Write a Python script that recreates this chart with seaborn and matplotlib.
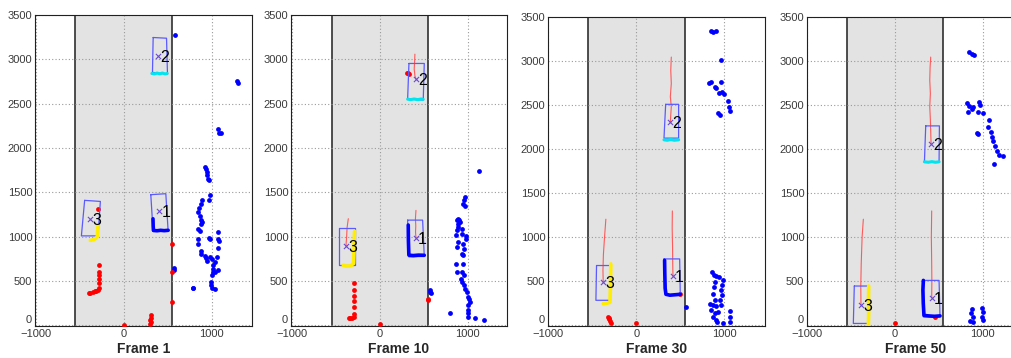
import matplotlib
matplotlib.use("Agg")
import matplotlib.pyplot as plt
import seaborn as sns
import numpy as np

sns.set_style("white")
plt.rcParams['font.family'] = ['Liberation Sans', 'DejaVu Sans']

frame_titles = ["Frame 1", "Frame 10", "Frame 30", "Frame 50"]
x_ticks = [-1000, 0, 1000]
y_ticks = [0, 500, 1000, 1500, 2000, 2500, 3000, 3500]
lane_edges = [-550, 550]

# ---------------- Frame 1 ----------------
f1_blue_x = [582, 1285, 1300, 1075, 1087, 1106, 924, 935, 943, 950, 960, 972,
             981, 973, 886, 878, 858, 847, 866, 878, 886, 878, 847, 866,
             973, 981, 1075, 1068, 1087, 1075,
             840, 847, 874, 878, 924, 935, 950, 981, 1000, 1057, 1038, 1018, 1011, 1011,
             1000, 1038, 1075, 989, 989, 1000, 1038, 783, 790, 568, 575]
f1_blue_y = [3274, 2750, 2733, 2215, 2167, 2167, 1790, 1765, 1727, 1690, 1652, 1633,
             1464, 1415, 1407, 1371, 1325, 1277, 1228, 1182, 1164, 1145, 1081, 1063,
             985, 969, 1052, 969, 950, 872,
             969, 920, 837, 807, 781, 762, 725, 770, 751, 770, 714, 675, 638, 600,
             563, 600, 619, 489, 451, 414, 406, 414, 420, 650, 620]
f1_red_x = [-285, -283, -283, -283, -283, -285, -290, -311, -330, -350, -380, -396,
            296, 316, 305, 310, 300, 0, 544, 548, 545, -293]
f1_red_y = [676, 600, 560, 520, 480, 420, 394, 385, 380, 376, 365, 357,
            56, 113, 80, 30, 10, 0, 920, 601, 263, 1314]
f1_box1_x = [308, 479, 505, 334, 308]
f1_box1_y = [1472, 1483, 1070, 1059, 1472]
f1_box2_x = [335, 487, 498, 327, 335]
f1_box2_y = [3246, 3238, 2833, 2852, 3246]
f1_box3_x = [-445, -266, -293, -482, -445]
f1_box3_y = [1408, 1396, 1007, 1007, 1408]
f1_center_x = [403, 392, -380]
f1_center_y = [1287, 3039, 1202]
f1_cyan_x = [320, 350, 380, 410, 440, 470, 495]
f1_cyan_y = [2840, 2835, 2845, 2835, 2845, 2835, 2840]
f1_yellow_x = [-293, -296, -300, -311, -340, -380]
f1_yellow_y = [1126, 1060, 1000, 985, 965, 957]
f1_lshape_x = [333, 335, 338, 380, 420, 460, 506]
f1_lshape_y = [1200, 1120, 1068, 1065, 1070, 1066, 1070]
f1_traj1_x, f1_traj1_y = [], []
f1_traj2_x, f1_traj2_y = [], []
f1_traj3_x, f1_traj3_y = [], []

# ---------------- Frame 10 ----------------
f10_blue_x = [1129, 969, 961, 950, 969, 893, 874, 893, 886, 874, 939, 939, 863, 893, 874,
              950, 962, 931, 950, 863, 874, 950, 939, 962, 924, 939, 962, 969, 988,
              1007, 1026, 1000, 1000, 1000, 1007, 1083, 798, 1190, 570, 578, 575,
              905, 915, 980, 985, 1015]
f10_blue_y = [1734, 1446, 1408, 1370, 1345, 1201, 1182, 1145, 1108, 1070, 1089, 1033, 1014,
              939, 882, 920, 864, 807, 788, 695, 601, 695, 601, 563, 526, 481, 450, 413,
              376, 320, 263, 225, 169, 132, 95, 75, 132, 56, 394, 357, 375,
              1190, 1160, 1010, 970, 290]
f10_red_x = [-297, -297, -297, -297, -297, -297, -300, -320, -340, -354,
             304, 318, 330, 0, 551, 545]
f10_red_y = [477, 394, 330, 270, 200, 130, 94, 80, 78, 75,
             2844, 2840, 2835, 11, 300, 280]
f10_box1_x = [316, 487, 506, 330, 316]
f10_box1_y = [1185, 1185, 775, 770, 1185]
f10_box2_x = [331, 506, 494, 316, 331]
f10_box2_y = [2953, 2953, 2540, 2552, 2953]
f10_box3_x = [-464, -285, -285, -464, -464]
f10_box3_y = [1096, 1096, 675, 675, 1096]
f10_center_x = [411, 411, -388]
f10_center_y = [983, 2777, 893]
f10_cyan_x = [316, 350, 390, 430, 470, 494]
f10_cyan_y = [2550, 2545, 2552, 2545, 2552, 2548]
f10_yellow_x = [-290, -294, -297, -300, -330, -380, -418]
f10_yellow_y = [1060, 950, 800, 700, 670, 665, 675]
f10_lshape_x = [323, 325, 330, 380, 440, 506]
f10_lshape_y = [1130, 950, 790, 785, 790, 788]
f10_traj1_x = [411, 405, 409, 406, 411]
f10_traj1_y = [1295, 1200, 1120, 1050, 983]
f10_traj2_x = [399, 395, 391, 399, 411]
f10_traj2_y = [3058, 2964, 2889, 2814, 2777]
f10_traj3_x = [-361, -375, -380, -388]
f10_traj3_y = [1201, 1100, 1000, 893]

# ---------------- Frame 30 ----------------
f30_blue_x = [849, 868, 898, 963, 822, 849, 887, 906, 963, 936, 974, 989, 1038, 1049, 1064,
              925, 944,
              856, 879, 906, 936, 981, 887, 974, 879, 963, 868, 974, 887, 944, 830, 868,
              906, 963, 849, 887, 925, 1057, 868, 898, 917, 981, 1057, 1057, 558]
f30_blue_y = [3345, 3326, 3337, 3014, 2751, 2763, 2706, 2688, 2763, 2638, 2650, 2624, 2548,
              2473, 2435, 2413, 2387,
              609, 571, 557, 545, 507, 489, 451, 433, 395, 357, 338, 282, 282, 245, 225,
              219, 233, 169, 132, 151, 158, 95, 56, 30, 19, 95, 30, 207]
f30_red_x = [-321, -315, -310, -300, -291, 0, 498]
f30_red_y = [94, 85, 70, 45, 19, 19, 357]
f30_box1_x = [313, 491, 498, 340, 313]
f30_box1_y = [752, 752, 346, 346, 752]
f30_box2_x = [332, 479, 479, 313, 332]
f30_box2_y = [2508, 2508, 2124, 2124, 2508]
f30_box3_x = [-453, -291, -302, -460, -453]
f30_box3_y = [677, 677, 282, 282, 677]
f30_center_x = [415, 385, -377]
f30_center_y = [556, 2312, 489]
f30_cyan_x = [313, 350, 390, 430, 479]
f30_cyan_y = [2105, 2100, 2108, 2100, 2105]
f30_yellow_x = [-291, -293, -296, -300, -330, -377]
f30_yellow_y = [695, 550, 400, 260, 250, 244]
f30_lshape_x = [320, 322, 326, 335, 380, 440, 498]
f30_lshape_y = [735, 600, 420, 350, 340, 345, 350]
f30_traj1_x = [408, 406, 410, 412, 415]
f30_traj1_y = [1297, 1100, 900, 700, 556]
f30_traj2_x = [396, 390, 396, 385, 396, 385]
f30_traj2_y = [3045, 2894, 2744, 2594, 2481, 2312]
f30_traj3_x = [-347, -362, -375, -380, -377]
f30_traj3_y = [1203, 1000, 800, 620, 489]

# ---------------- Frame 50 ----------------
f50_blue_x = [847, 874, 901, 825, 847, 874, 836, 893, 962, 969, 950, 1000, 939, 950,
              1076, 1064, 1091, 1102, 1121, 1140, 1159, 1190, 1228, 1129,
              874, 863, 886, 855, 893, 988, 1000, 988, 1007]
f50_blue_y = [3100, 3082, 3074, 2519, 2488, 2451, 2424, 2480, 2537, 2499, 2424, 2406, 2187,
              2169,
              2330, 2255, 2199, 2142, 2086, 2029, 1973, 1935, 1917, 1834,
              188, 132, 94, 45, 38, 196, 151, 94, 56]
f50_red_x = [0, 456]
f50_red_y = [26, 94]
f50_box1_x = [323, 502, 513, 323, 323]
f50_box1_y = [508, 508, 94, 94, 508]
f50_box2_x = [350, 506, 502, 335, 350]
f50_box2_y = [2263, 2263, 1850, 1850, 2263]
f50_box3_x = [-464, -293, -293, -475, -464]
f50_box3_y = [444, 444, 19, 19, 444]
f50_center_x = [418, 411, -388]
f50_center_y = [312, 2060, 233]
f50_cyan_x = [335, 380, 420, 460, 502]
f50_cyan_y = [1855, 1850, 1857, 1850, 1855]
f50_yellow_x = [-300, -302, -300, -303]
f50_yellow_y = [444, 300, 150, 8]
f50_lshape_x = [323, 318, 322, 330, 380, 450, 513]
f50_lshape_y = [508, 400, 250, 110, 105, 100, 105]
f50_traj1_x = [418, 414, 418, 420, 418]
f50_traj1_y = [1297, 1000, 700, 500, 312]
f50_traj2_x = [407, 400, 396, 403, 396, 403, 411]
f50_traj2_y = [3045, 2932, 2782, 2632, 2481, 2331, 2060]
f50_traj3_x = [-361, -375, -385, -390, -388]
f50_traj3_y = [1203, 1000, 700, 450, 233]

track_labels = ["1", "2", "3"]

frames = [
    dict(bx=f1_blue_x, by=f1_blue_y, rx=f1_red_x, ry=f1_red_y,
         boxes=[(f1_box1_x, f1_box1_y), (f1_box2_x, f1_box2_y), (f1_box3_x, f1_box3_y)],
         cx=f1_center_x, cy=f1_center_y, cyan=(f1_cyan_x, f1_cyan_y),
         yellow=(f1_yellow_x, f1_yellow_y), lshape=(f1_lshape_x, f1_lshape_y),
         trajs=[(f1_traj1_x, f1_traj1_y), (f1_traj2_x, f1_traj2_y), (f1_traj3_x, f1_traj3_y)]),
    dict(bx=f10_blue_x, by=f10_blue_y, rx=f10_red_x, ry=f10_red_y,
         boxes=[(f10_box1_x, f10_box1_y), (f10_box2_x, f10_box2_y), (f10_box3_x, f10_box3_y)],
         cx=f10_center_x, cy=f10_center_y, cyan=(f10_cyan_x, f10_cyan_y),
         yellow=(f10_yellow_x, f10_yellow_y), lshape=(f10_lshape_x, f10_lshape_y),
         trajs=[(f10_traj1_x, f10_traj1_y), (f10_traj2_x, f10_traj2_y), (f10_traj3_x, f10_traj3_y)]),
    dict(bx=f30_blue_x, by=f30_blue_y, rx=f30_red_x, ry=f30_red_y,
         boxes=[(f30_box1_x, f30_box1_y), (f30_box2_x, f30_box2_y), (f30_box3_x, f30_box3_y)],
         cx=f30_center_x, cy=f30_center_y, cyan=(f30_cyan_x, f30_cyan_y),
         yellow=(f30_yellow_x, f30_yellow_y), lshape=(f30_lshape_x, f30_lshape_y),
         trajs=[(f30_traj1_x, f30_traj1_y), (f30_traj2_x, f30_traj2_y), (f30_traj3_x, f30_traj3_y)]),
    dict(bx=f50_blue_x, by=f50_blue_y, rx=f50_red_x, ry=f50_red_y,
         boxes=[(f50_box1_x, f50_box1_y), (f50_box2_x, f50_box2_y), (f50_box3_x, f50_box3_y)],
         cx=f50_center_x, cy=f50_center_y, cyan=(f50_cyan_x, f50_cyan_y),
         yellow=(f50_yellow_x, f50_yellow_y), lshape=(f50_lshape_x, f50_lshape_y),
         trajs=[(f50_traj1_x, f50_traj1_y), (f50_traj2_x, f50_traj2_y), (f50_traj3_x, f50_traj3_y)]),
]

W, H = 1012, 358
fig = plt.figure(figsize=(W / 100, H / 100), dpi=100)
fig.patch.set_facecolor("white")

panel_px = [(35, 15, 217, 311), (291, 15, 216, 311), (548, 17, 217, 309), (807, 17, 217, 309)]
xlims = [(-1010, 1460), (-1015, 1450), (-1004, 1460), (-1003, 1470)]

BOX_C = "#5a5aff"
DOT_B = "#0000ff"
DOT_R = "#ff0000"
TRAJ_C = "#ff5a5a"

for i, (fr, (l, t, w, h)) in enumerate(zip(frames, panel_px)):
    ax = fig.add_axes([l / W, (H - t - h) / H, w / W, h / H])
    ax.set_facecolor("white")
    ax.axvspan(lane_edges[0], lane_edges[1], color="#e3e3e3", zorder=0.1, lw=0)
    for xe in lane_edges:
        ax.axvline(xe, color="#303030", lw=1.2, zorder=0.3)
    ax.set_xlim(*xlims[i])
    ax.set_ylim(-10, 3500)
    ax.set_xticks(x_ticks)
    ax.set_yticks(y_ticks)
    ax.grid(True, linestyle=(0, (1, 2)), color="#9a9a9a", lw=0.8, zorder=0.2)
    ax.set_axisbelow(True)

    # roadside detections
    sns.scatterplot(x=fr["bx"], y=fr["by"], ax=ax, color=DOT_B, s=12, linewidth=0, zorder=3)
    sns.scatterplot(x=fr["rx"], y=fr["ry"], ax=ax, color=DOT_R, s=12, linewidth=0, zorder=3)

    # trajectories
    for tx, ty in fr["trajs"]:
        if len(tx):
            sns.lineplot(x=tx, y=ty, ax=ax, sort=False, estimator=None, color=TRAJ_C, lw=0.8, zorder=4)

    # track boxes
    for bxs, bys in fr["boxes"]:
        sns.lineplot(x=bxs, y=bys, ax=ax, sort=False, estimator=None, color=BOX_C, lw=0.9, zorder=4)

    # contour segments
    sns.lineplot(x=fr["lshape"][0], y=fr["lshape"][1], ax=ax, sort=False, estimator=None,
                 color=DOT_B, lw=2.6, zorder=5)
    sns.lineplot(x=fr["cyan"][0], y=fr["cyan"][1], ax=ax, sort=False, estimator=None,
                 color="#00e5ee", lw=2.2, zorder=5)
    sns.lineplot(x=fr["yellow"][0], y=fr["yellow"][1], ax=ax, sort=False, estimator=None,
                 color="#ffee00", lw=2.6, zorder=5)

    # centers and ids
    sns.scatterplot(x=fr["cx"], y=fr["cy"], ax=ax, marker="x", color="#6a4ad0", s=14,
                    linewidth=0.8, zorder=6)
    for lab, cxv, cyv in zip(track_labels, fr["cx"], fr["cy"]):
        ax.text(cxv + 25, cyv - 20, lab, fontsize=11.5, color="black", ha="left", va="center", zorder=7)

    for s in ax.spines.values():
        s.set_color("#202020")
        s.set_linewidth(0.8)
    ax.tick_params(direction="in", length=3, labelsize=8, labelcolor="#3a3a3a", color="#202020",
                   pad=2)
    ax.set_xlabel(frame_titles[i], fontsize=10, fontweight="bold", labelpad=2)
    ax.set_ylabel("")
    if ax.get_legend():
        ax.get_legend().remove()
    # the "0" label sits just above the x axis, as in the reference
    ax.yaxis.get_major_ticks()[0].label1.set_verticalalignment("bottom")

fig.savefig("out.png", dpi=100)
